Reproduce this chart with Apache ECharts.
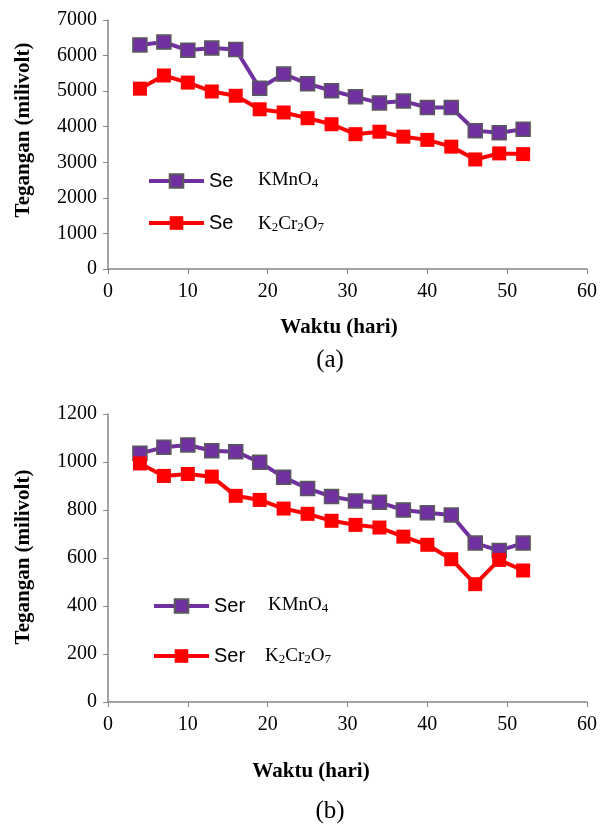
<!DOCTYPE html>
<html><head><meta charset="utf-8">
<script src="https://cdn.jsdelivr.net/npm/echarts@6/dist/echarts.min.js"></script>
<style>html,body{margin:0;padding:0;background:#fff}#c{width:600px;height:825px}</style>
</head><body><div id="c"></div>
<script>
const days = [4,7,10,13,16,19,22,25,28,31,34,37,40,43,46,49,52];
const kmno4A = [6300,6380,6150,6210,6170,5080,5480,5210,5010,4840,4670,4720,4540,4540,3890,3830,3930];
const k2cr2o7A = [5070,5440,5240,4990,4870,4490,4400,4240,4070,3790,3860,3720,3630,3440,3080,3250,3230];
const kmno4B = [1036,1061,1071,1047,1043,999,936,890,856,838,832,800,789,779,662,631,662];
const k2cr2o7B = [994,942,950,939,859,842,806,784,755,738,727,689,655,595,491,592,548];
const xTitle = 'Waktu (hari)';
const yTitle = 'Tegangan (milivolt)';

const serif = 'Liberation Serif';
const axisCol = '#868686';
function pairs(xs, ys){ return xs.map((x,i)=>[x, ys[i]]); }

function xAx(idx){
  return {type:'value', gridIndex:idx, min:0, max:60, interval:10,
    axisLine:{lineStyle:{color:axisCol, width:1.5}},
    axisTick:{show:true, length:5, lineStyle:{color:axisCol}},
    axisLabel:{fontFamily:serif, fontSize:20, color:'#000', margin:13},
    splitLine:{show:false}};
}
function yAx(idx, max, interval){
  return {type:'value', gridIndex:idx, min:0, max:max, interval:interval,
    axisLine:{show:true, lineStyle:{color:axisCol, width:1.5}},
    axisTick:{show:true, length:5, lineStyle:{color:axisCol}},
    axisLabel:{fontFamily:serif, fontSize:20, color:'#000', margin:11, formatter: v => String(v)},
    splitLine:{show:false}};
}
function ser(name, idx, data, color, border){
  return {name:name, type:'line', xAxisIndex:idx, yAxisIndex:idx, data:data,
    symbol:'rect', symbolSize:14, showSymbol:true,
    lineStyle:{color:color, width:4}, itemStyle:{color:color, borderColor:border||color, borderWidth: border?1.5:0},
    animation:false};
}
const purple = '#7030A0', red = '#FF0000';
const sub = {sub:{fontFamily:serif, fontSize:13, color:'#000', padding:[8,0,0,0]}};
function formulaText(x, y, kind){
  const base = {fontFamily:serif, fontSize:19, fill:'#000', rich: sub, verticalAlign:'middle'};
  const text = kind===1 ? 'KMnO{sub|4}' : 'K{sub|2}Cr{sub|2}O{sub|7}';
  return {type:'text', x:x, y:y, style:Object.assign({text:text}, base)};
}
function centerText(txt, x, y, size, bold, rot){
  return {type:'text', x:x, y:y, rotation: rot||0,
    style:{text:txt, fontFamily:serif, fontSize:size, fontWeight: bold?'bold':'normal', fill:'#000', align:'center', verticalAlign:'middle'}};
}
const legendText = {fontFamily:'Liberation Sans', fontSize:20, color:'#000'};
const chart = echarts.init(document.getElementById('c'));
chart.setOption({
  backgroundColor:'#fff',
  animation:false,
  grid:[{left:108, top:20, width:479, height:249},{left:108, top:414, width:479, height:288}],
  xAxis:[xAx(0), xAx(1)],
  yAxis:[yAx(0,7000,1000), yAx(1,1200,200)],
  legend:[
    {show:true, left:142, top:166, orient:'vertical', itemGap:22, itemWidth:55, itemHeight:17,
      data:['Series1','Series2'], selectedMode:false, lineStyle:{width:4},
      formatter: n => 'Se',
      textStyle:legendText},
    {show:true, left:147, top:591, orient:'vertical', itemGap:30, itemWidth:55, itemHeight:17,
      data:['Series1 ','Series2 '], selectedMode:false, lineStyle:{width:4},
      formatter: n => 'Ser',
      textStyle:legendText}
  ],
  graphic:[
    formulaText(258, 180, 1), formulaText(258, 224, 2),
    formulaText(268, 605, 1), formulaText(265, 656, 2),
    centerText(yTitle, 24, 130, 21, true, Math.PI/2),
    centerText(yTitle, 24, 557, 21, true, Math.PI/2),
    centerText(xTitle, 339, 328, 21, true),
    centerText(xTitle, 311, 772, 21, true),
    centerText('(a)', 330, 360, 25, false),
    centerText('(b)', 330, 811, 25, false)
  ],
  series:[
    ser('Series1',0,pairs(days,kmno4A),purple,'#5a5a5a'),
    ser('Series2',0,pairs(days,k2cr2o7A),red),
    ser('Series1 ',1,pairs(days,kmno4B),purple,'#5a5a5a'),
    ser('Series2 ',1,pairs(days,k2cr2o7B),red)
  ]
});
</script></body></html>
